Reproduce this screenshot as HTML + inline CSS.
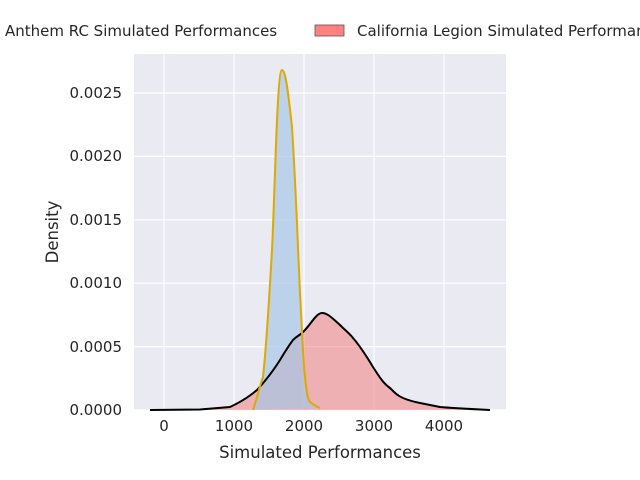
<html><body style="margin:0;background:#fff">
<svg width="640" height="480" xmlns="http://www.w3.org/2000/svg" font-family="DejaVu Sans, sans-serif">
<rect x="134" y="54" width="372" height="356" fill="#eaeaf2"/>
<g stroke="#fff" stroke-width="1.2">
<line x1="164" y1="54" x2="164" y2="410"/><line x1="234" y1="54" x2="234" y2="410"/><line x1="304" y1="54" x2="304" y2="410"/><line x1="374" y1="54" x2="374" y2="410"/><line x1="444" y1="54" x2="444" y2="410"/>
<line x1="134" y1="93" x2="506" y2="93"/><line x1="134" y1="156.4" x2="506" y2="156.4"/><line x1="134" y1="219.8" x2="506" y2="219.8"/><line x1="134" y1="283.2" x2="506" y2="283.2"/><line x1="134" y1="346.6" x2="506" y2="346.6"/><line x1="134" y1="410" x2="506" y2="410"/>
</g>
<path d="M150,410 L200,409.5 L230,407 C245,400 252,394 257,390 C268,378 275,368 280,360 C286,350 290,344 293,340 C297,336 300,335 302,333 C310,326 316,313 322,313 C328,313 333,319 340,325 C346,331 350,334 353,338 C360,346 367,357 373,367 C380,378 384,384 390,388 C395,393 398,396 403,398 C410,401 415,402 420,403 C430,405 435,406 440,407 C450,408 470,409 490,410" fill="#f08080" fill-opacity="0.55" stroke="none"/>
<path d="M253,410 C258,395 260,385 263,377 C267,340 269,300 272,250 C275,190 277,70 282,70 C286,70 289,100 292,127 C296,190 298,250 300,293 C302,330 303,360 305,377 C307,395 308,400 310,402 C314,405 317,407 320,408 Z" fill="#a7c7e7" fill-opacity="0.7" stroke="none"/>
<path d="M150,410 L200,409.5 L230,407 C245,400 252,394 257,390 C268,378 275,368 280,360 C286,350 290,344 293,340 C297,336 300,335 302,333 C310,326 316,313 322,313 C328,313 333,319 340,325 C346,331 350,334 353,338 C360,346 367,357 373,367 C380,378 384,384 390,388 C395,393 398,396 403,398 C410,401 415,402 420,403 C430,405 435,406 440,407 C450,408 470,409 490,410" fill="none" stroke="#000" stroke-width="2"/>
<path d="M253,410 C258,395 260,385 263,377 C267,340 269,300 272,250 C275,190 277,70 282,70 C286,70 289,100 292,127 C296,190 298,250 300,293 C302,330 303,360 305,377 C307,395 308,400 310,402 C314,405 317,407 320,408" fill="none" stroke="#dcaa00" stroke-width="2"/>
<g font-size="15" fill="#262626" text-anchor="middle">
<text x="164" y="431">0</text><text x="234" y="431">1000</text><text x="304" y="431">2000</text><text x="374" y="431">3000</text><text x="444" y="431">4000</text>
<text x="320" y="458" font-size="16.5">Simulated Performances</text>
<text transform="translate(58,232) rotate(-90)" font-size="16.5">Density</text>
</g>
<g font-size="15" fill="#262626" text-anchor="end">
<text x="122" y="98">0.0025</text><text x="122" y="161">0.0020</text><text x="122" y="225">0.0015</text><text x="122" y="288">0.0010</text><text x="122" y="352">0.0005</text><text x="122" y="415">0.0000</text>
</g>
<g font-size="15" fill="#262626">
<text x="5" y="36">Anthem RC Simulated Performances</text>
<rect x="315" y="25" width="29" height="11" fill="#ff8080" stroke="#555" stroke-width="0.8"/>
<text x="357" y="36">California Legion Simulated Performances</text>
</g>
</svg>
</body></html>
